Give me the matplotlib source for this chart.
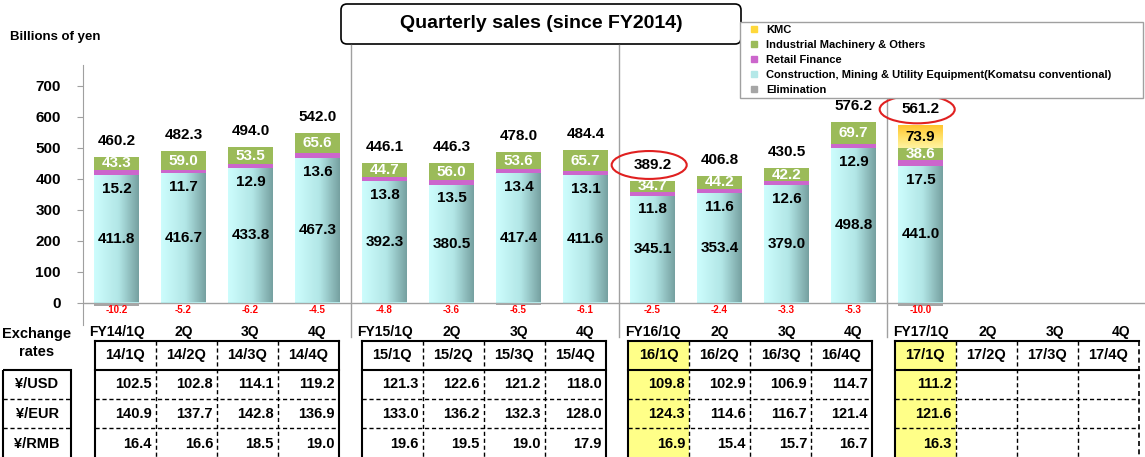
import matplotlib.pyplot as plt
import numpy as np
from matplotlib.patches import Ellipse, FancyBboxPatch, Rectangle
from matplotlib.lines import Line2D
from matplotlib.colors import LinearSegmentedColormap

plt.rcParams['font.family'] = ['Liberation Sans Narrow', 'Liberation Sans', 'DejaVu Sans']
plt.rcParams['font.weight'] = 'bold'

# --- data (billions of yen) ---
quarters = ['FY14/1Q', '2Q', '3Q', '4Q', 'FY15/1Q', '2Q', '3Q', '4Q',
            'FY16/1Q', '2Q', '3Q', '4Q', 'FY17/1Q', '2Q', '3Q', '4Q']
construction = [411.8, 416.7, 433.8, 467.3, 392.3, 380.5, 417.4, 411.6, 345.1, 353.4, 379.0, 498.8, 441.0]
retail = [15.2, 11.7, 12.9, 13.6, 13.8, 13.5, 13.4, 13.1, 11.8, 11.6, 12.6, 12.9, 17.5]
industrial = [43.3, 59.0, 53.5, 65.6, 44.7, 56.0, 53.6, 65.7, 34.7, 44.2, 42.2, 69.7, 38.6]
kmc = [0, 0, 0, 0, 0, 0, 0, 0, 0, 0, 0, 0, 73.9]
elimination = [-10.2, -5.2, -6.2, -4.5, -4.8, -3.6, -6.5, -6.1, -2.5, -2.4, -3.3, -5.3, -10.0]
totals = [460.2, 482.3, 494.0, 542.0, 446.1, 446.3, 478.0, 484.4, 389.2, 406.8, 430.5, 576.2, 561.2]
circled = [8, 12]

# exchange rates
rate_cols = ['14/1Q', '14/2Q', '14/3Q', '14/4Q', '15/1Q', '15/2Q', '15/3Q', '15/4Q',
             '16/1Q', '16/2Q', '16/3Q', '16/4Q', '17/1Q', '17/2Q', '17/3Q', '17/4Q']
rate_names = ['¥/USD', '¥/EUR', '¥/RMB']
usd = [102.5, 102.8, 114.1, 119.2, 121.3, 122.6, 121.2, 118.0, 109.8, 102.9, 106.9, 114.7, 111.2]
eur = [140.9, 137.7, 142.8, 136.9, 133.0, 136.2, 132.3, 128.0, 124.3, 114.6, 116.7, 121.4, 121.6]
rmb = [16.4, 16.6, 18.5, 19.0, 19.6, 19.5, 19.0, 17.9, 16.9, 15.4, 15.7, 16.7, 16.3]
highlight_cols = [8, 12]

c_cyan = '#b5e8e8'
c_ret = '#cc66cc'
c_ind = '#9bbb59'
c_kmc = '#ffd83a'
c_elim = '#a6a6a6'
GRAY = '#a0a0a0'

W, H = 1145, 457
fig = plt.figure(figsize=(W / 100, H / 100), dpi=100)

# overlay in pixel coords for layout pieces
lay = fig.add_axes([0, 0, 1, 1])
lay.set_xlim(0, W)
lay.set_ylim(H, 0)
lay.axis('off')

# main chart axes
Y0, SCALE = 302.5, 0.31          # pixel of y=0, pixels per unit
def py(p):
    return (Y0 - p) / SCALE

ax = fig.add_axes([83 / W, (H - 330) / H, (W - 83) / W, 285 / H])
ax.patch.set_alpha(0)
n = len(construction)
x = np.arange(n)
bw = 0.66

def shade(bars, cmap, arr):
    # paint a gradient inside each bar
    for b in bars:
        if b.get_height() == 0:
            continue
        im = ax.imshow(arr, cmap=cmap, aspect='auto', zorder=b.get_zorder() + 0.1,
                       extent=[b.get_x(), b.get_x() + b.get_width(), b.get_y(), b.get_y() + b.get_height()])
        im.set_clip_path(b)

cy_map = LinearSegmentedColormap.from_list('cy', [(0, '#cdfdfd'), (0.55, '#b2e6e6'), (1, '#76a1a1')])
kmc_map = LinearSegmentedColormap.from_list('km', [(0, '#ffc42e'), (0.5, '#ffe066'), (1, '#fff3a0')])

ax.bar(x, elimination, bw, color=c_elim, zorder=2)
cbars = ax.bar(x, construction, bw, color=c_cyan, zorder=2)
shade(cbars, cy_map, np.linspace(0, 1, 64).reshape(1, -1))
bot = np.array(construction)
ax.bar(x, retail, bw, bottom=bot, color=c_ret, zorder=3)
bot = bot + np.array(retail)
ax.bar(x, industrial, bw, bottom=bot, color=c_ind, zorder=3)
bot2 = bot + np.array(industrial)
kbars = ax.bar(x, kmc, bw, bottom=bot2, color=c_kmc, zorder=3)
shade(kbars, kmc_map, np.linspace(0, 1, 64).reshape(-1, 1))
top = bot2 + np.array(kmc)

fs = 11
for i in range(n):
    ax.text(i, construction[i] / 2, f'{construction[i]:.1f}', ha='center', va='center', fontsize=fs, zorder=5)
    ax.text(i, construction[i] - 45, f'{retail[i]:.1f}', ha='center', va='center', fontsize=fs, zorder=5)
    ax.text(i, bot[i] + industrial[i] / 2, f'{industrial[i]:.1f}', ha='center', va='center',
            fontsize=fs, color='white', zorder=5)
    if kmc[i] > 0:
        ax.text(i, bot2[i] + kmc[i] / 2, f'{kmc[i]:.1f}', ha='center', va='center', fontsize=fs, zorder=5)
    ax.text(i, top[i] + 52, f'{totals[i]:.1f}', ha='center', va='center', fontsize=fs, zorder=5)
    ax.text(i, py(310), f'{elimination[i]:.1f}', ha='center', va='center', fontsize=7,
            color='#ff0000', zorder=5, clip_on=False)
for i in circled:
    ax.add_patch(Ellipse((i - 0.05, top[i] + 52), 1.12, 90, fill=False, ec='#e02020', lw=1.5, zorder=6))

ax.axhline(0, color=GRAY, lw=1, zorder=1)
for s in [3.5, 7.5, 11.5]:
    ax.plot([s, s], [py(337), py(45)], color=GRAY, lw=1, clip_on=False, zorder=1)

for i, q in enumerate(quarters):
    ax.text(i, py(332), q, ha='center', va='center', fontsize=10, clip_on=False)

ax.set_xlim(-0.5, 15.35)
ax.set_ylim(py(330), py(45))
ax.set_yticks(range(0, 701, 100))
ax.tick_params(axis='y', labelsize=11, length=4, color=GRAY, pad=12)
ax.tick_params(axis='x', bottom=False, labelbottom=False)
for sp in ['top', 'right', 'bottom']:
    ax.spines[sp].set_visible(False)
ax.spines['left'].set_color(GRAY)
ax.spines['left'].set_bounds(py(325), py(65))

# title box and unit label
lay.add_patch(FancyBboxPatch((341, 4), 400, 40, boxstyle='round,pad=0,rounding_size=6',
                             fc='white', ec='black', lw=1.2))
lay.text(541, 24, 'Quarterly sales (since FY2014)', ha='center', va='center', fontsize=14)
lay.text(10, 37, 'Billions of yen', ha='left', va='center', fontsize=9.5)

# legend
seg_colors = [c_kmc, c_ind, c_ret, c_cyan, c_elim]
labels = ['KMC', 'Industrial Machinery & Others', 'Retail Finance',
          'Construction, Mining & Utility Equipment(Komatsu conventional)', 'Elimination']
handles = [Line2D([], [], ls='none', marker='s', markersize=5, mfc=c, mec=c) for c in seg_colors]
fig.legend(handles, labels, loc='upper left', mode='expand',
           bbox_to_anchor=(740 / W, (H - 97) / H, 403 / W, 75 / H), borderaxespad=0,
           fontsize=8, handlelength=2.0, handletextpad=0.1,
           labelspacing=0.45, borderpad=0.25, fancybox=False, edgecolor=GRAY, framealpha=1)

# exchange rate tables
rows = [usd, eur, rmb]
ry = [341, 370, 399, 428, 460]
cw = 61
dash = (0, (3, 2))
for g in range(4):
    x0 = 95 + 266.5 * g
    x1 = x0 + 4 * cw
    for c in range(4):
        k = 4 * g + c
        cx = x0 + c * cw
        if k in highlight_cols:
            lay.add_patch(Rectangle((cx, ry[0]), cw, ry[-1] - ry[0], fc='#ffff88', ec='none'))
        lay.text(cx + cw / 2, (ry[0] + ry[1]) / 2, rate_cols[k], ha='center', va='center', fontsize=10.5)
        for r in range(3):
            if k < len(rows[r]):
                lay.text(cx + cw - 4, (ry[r + 1] + ry[r + 2]) / 2, f'{rows[r][k]:.1f}',
                         ha='right', va='center', fontsize=10.5)
        if c > 0:
            lay.plot([cx, cx], [ry[0], ry[-1]], color='black', lw=1, ls=dash)
    for r in [2, 3]:
        lay.plot([x0, x1], [ry[r], ry[r]], color='black', lw=1, ls=dash)
    lay.plot([x0, x1], [ry[1], ry[1]], color='black', lw=1.5)
    lay.plot([x0, x1], [ry[0], ry[0]], color='black', lw=1.5)
    lay.plot([x0, x0], [ry[0], ry[-1]], color='black', lw=1.5)
    lay.plot([x1, x1], [ry[0], ry[-1]], color='black', lw=1.5 if g < 3 else 1.2,
             ls='-' if g < 3 else dash)

lay.text(37, 334, 'Exchange', ha='center', va='center', fontsize=10.5)
lay.text(37, 352, 'rates', ha='center', va='center', fontsize=10.5)
lay.add_patch(Rectangle((3, 370), 68, 90, fill=False, ec='black', lw=1.5))
for r in range(3):
    lay.text(37, (ry[r + 1] + ry[r + 2]) / 2, rate_names[r], ha='center', va='center', fontsize=10.5)
for r in [2, 3]:
    lay.plot([3, 71], [ry[r], ry[r]], color='black', lw=1, ls=dash)

fig.savefig('out.png', dpi=100)
